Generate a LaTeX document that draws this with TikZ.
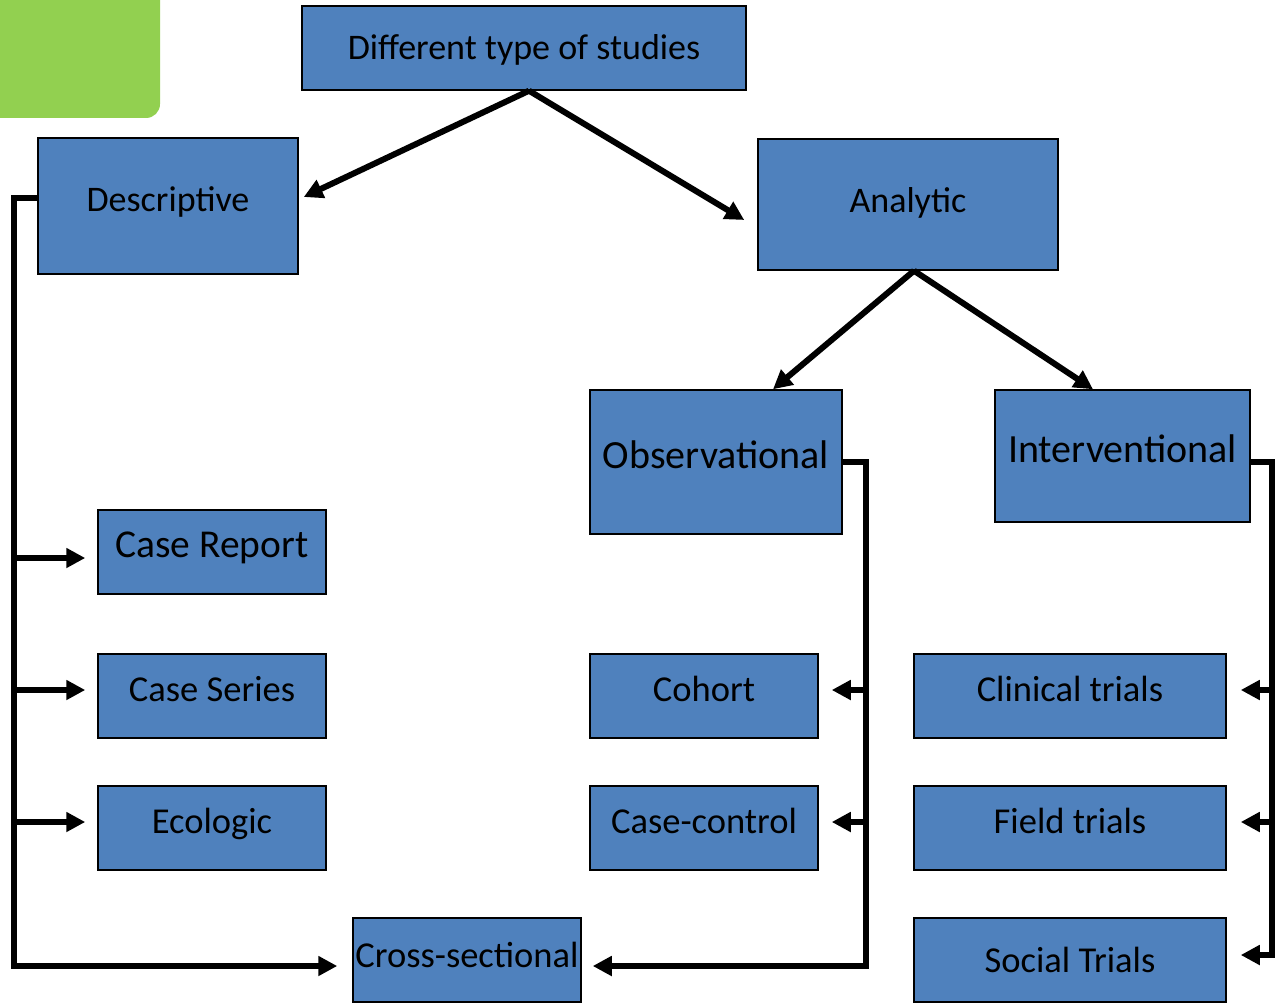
\documentclass[tikz,border=0pt]{standalone}
\usepackage{fontspec}
\setmainfont{Carlito}
\usetikzlibrary{arrows.meta}
\definecolor{boxblue}{HTML}{4F81BD}
\definecolor{lgreen}{HTML}{92D050}
\begin{document}
\begin{tikzpicture}[x=1pt,y=-1pt,
  box/.style={draw=black, line width=1.5pt, fill=boxblue, inner sep=0pt, align=center},
  fs/.style={font=\fontsize{#1}{#1}\selectfont,
    text height={\dimexpr #1pt*75/100\relax}, text depth={\dimexpr #1pt*45/100\relax}},
  conn/.style={line width=6pt, line join=miter, -{Triangle[length=19pt,width=19pt]}}]
\useasboundingbox (0,0) rectangle (1276,1003);
\begin{scope}
  \clip (0,0) rectangle (1276,1003);
  \fill[lgreen, rounded corners=14pt] (-40,-40) rectangle (160,118);
\end{scope}
% boxes
\node[box, fs=36, text depth=4pt, minimum width=444pt, minimum height=84pt] (top) at (524,48) {Different type of studies};
\node[box, fs=36, minimum width=260pt, minimum height=136pt] (desc) at (168,206) {Descriptive};
\node[box, fs=36, text depth=12pt, minimum width=300pt, minimum height=131pt] (ana) at (908,204.5) {Analytic};
\node[box, fs=40, minimum width=252pt, minimum height=144pt] (obs) at (716,462) {Observational};
\node[box, fs=40, minimum width=255pt, minimum height=132pt] (int) at (1122.5,456) {Interventional};
\node[box, fs=39.5, minimum width=228pt, minimum height=84pt] (crep) at (212,552) {Case Report};
\node[box, fs=36.5, minimum width=228pt, minimum height=84pt] (cser) at (212,696) {Case Series};
\node[box, fs=36.5, minimum width=228pt, minimum height=84pt] (eco) at (212,828) {Ecologic};
\node[box, fs=36.5, text depth=13pt, minimum width=228pt, minimum height=84pt] (cross) at (467,960) {Cross-sectional};
\node[box, fs=36.5, minimum width=228pt, minimum height=84pt] (coh) at (704,696) {Cohort};
\node[box, fs=36.5, minimum width=228pt, minimum height=84pt] (cc) at (704,828) {Case-control};
\node[box, fs=36.5, minimum width=312pt, minimum height=84pt] (clin) at (1070,696) {Clinical trials};
\node[box, fs=36.5, minimum width=312pt, minimum height=84pt] (field) at (1070,828) {Field trials};
\node[box, fs=36.5, text depth=2.5pt, minimum width=312pt, minimum height=84pt] (soc) at (1070,960) {Social Trials};
% top-level arrows
\draw[conn] ([xshift=5pt]top.south) -- ([xshift=5pt,yshift=9pt]desc.east);
\draw[conn] ([xshift=5pt]top.south) -- ([xshift=-13pt,yshift=-15.5pt]ana.west);
\draw[conn] ([xshift=6pt]ana.south) -- ([xshift=57pt]obs.north);
\draw[conn] ([xshift=6pt]ana.south) -- ([xshift=-29.5pt]int.north);
% descriptive bracket
\coordinate (dtop) at (14,198);
\coordinate (dbot) at (14,966);
\draw[conn] ([yshift=8pt]desc.west) -- (dtop) -- (dbot) -- ([xshift=-15pt,yshift=-6pt]cross.west);
\draw[conn] (dtop |- 0,558) -- ([xshift=-12pt,yshift=-6pt]crep.west);
\draw[conn] (dtop |- 0,690) -- ([xshift=-12pt,yshift=6pt]cser.west);
\draw[conn] (dtop |- 0,822) -- ([xshift=-12pt,yshift=6pt]eco.west);
% observational bracket
\coordinate (otop) at (866,462);
\coordinate (obot) at (866,966);
\draw[conn] (obs.east) -- (otop) -- (obot) -- ([xshift=11pt,yshift=-6pt]cross.east);
\draw[conn] (otop |- 0,690) -- ([xshift=13pt,yshift=6pt]coh.east);
\draw[conn] (otop |- 0,822) -- ([xshift=13pt,yshift=6pt]cc.east);
% interventional bracket
\coordinate (itop) at (1272,462);
\coordinate (ibot) at (1272,955);
\draw[conn] ([yshift=-6pt]int.east) -- (itop) -- (ibot) -- ([xshift=14pt,yshift=5pt]soc.east);
\draw[conn] (itop |- 0,690) -- ([xshift=14pt,yshift=6pt]clin.east);
\draw[conn] (itop |- 0,822) -- ([xshift=14pt,yshift=6pt]field.east);
\end{tikzpicture}
\end{document}
